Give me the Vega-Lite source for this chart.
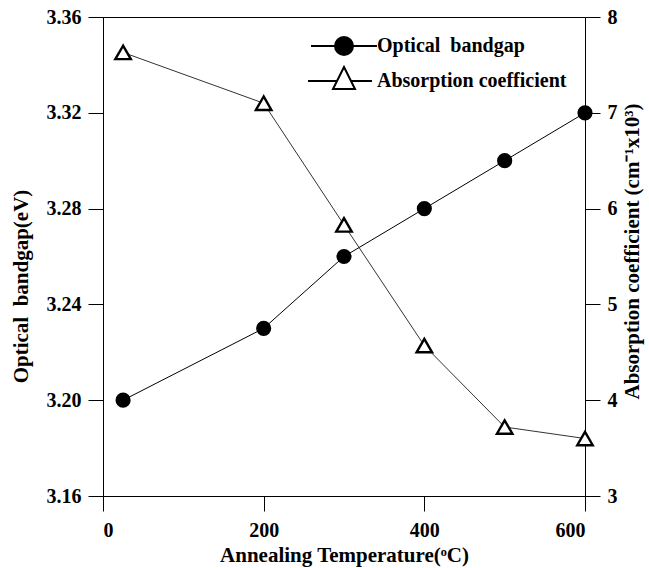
{
  "$schema": "https://vega.github.io/schema/vega-lite/v6.json",
  "autosize": {"type": "none"},
  "padding": {"left": 103, "top": 17, "right": 64, "bottom": 72},
  "width": 482,
  "height": 479,
  "background": "white",
  "config": {
    "view": {"stroke": "black", "strokeWidth": 1},
    "font": "Liberation Serif",
    "axis": {
      "grid": false,
      "domainColor": "black",
      "domainWidth": 1,
      "tickColor": "black",
      "tickWidth": 1,
      "tickSize": 15,
      "labelFont": "Liberation Serif",
      "labelFontWeight": "bold",
      "labelFontSize": 20,
      "labelColor": "black",
      "titleFont": "Liberation Serif",
      "titleFontWeight": "bold",
      "titleFontSize": 21,
      "titleColor": "black"
    },
    "legend": {
      "labelFont": "Liberation Serif",
      "labelFontWeight": "bold",
      "labelFontSize": 20,
      "labelColor": "black",
      "labelLimit": 400,
      "title": null,
      "orient": "none",
      "legendX": 208,
      "legendY": 18,
      "symbolSize": 400,
      "symbolStrokeColor": "black",
      "symbolStrokeWidth": 2,
      "symbolOpacity": 1,
      "symbolOffset": 22,
      "labelOffset": 22,
      "rowPadding": 4,
      "padding": 0
    }
  },
  "data": {
    "values": [
      {"T": 25, "series": "Optical\u00a0 bandgap", "value": 3.20},
      {"T": 200, "series": "Optical\u00a0 bandgap", "value": 3.23},
      {"T": 300, "series": "Optical\u00a0 bandgap", "value": 3.26},
      {"T": 400, "series": "Optical\u00a0 bandgap", "value": 3.28},
      {"T": 500, "series": "Optical\u00a0 bandgap", "value": 3.30},
      {"T": 600, "series": "Optical\u00a0 bandgap", "value": 3.32},
      {"T": 25, "series": "Absorption coefficient", "value": 7.63},
      {"T": 200, "series": "Absorption coefficient", "value": 7.10},
      {"T": 300, "series": "Absorption coefficient", "value": 5.83},
      {"T": 400, "series": "Absorption coefficient", "value": 4.57},
      {"T": 500, "series": "Absorption coefficient", "value": 3.72},
      {"T": 600, "series": "Absorption coefficient", "value": 3.60}
    ]
  },
  "encoding": {
    "x": {
      "field": "T",
      "type": "quantitative",
      "scale": {"domain": [0, 600], "nice": false, "zero": false},
      "axis": {
        "values": [0, 200, 400, 600],
        "title": "Annealing Temperature(ᵒC)",
        "labelPadding": 9,
        "titlePadding": 4
      }
    }
  },
  "layer": [
    {
      "transform": [{"filter": "datum.series === 'Optical\u00a0 bandgap'"}],
      "encoding": {
        "y": {
          "field": "value",
          "type": "quantitative",
          "scale": {"domain": [3.16, 3.36], "nice": false, "zero": false},
          "axis": {
            "orient": "left",
            "values": [3.16, 3.2, 3.24, 3.28, 3.32, 3.36],
            "format": ".2f",
            "title": "Optical\u00a0 bandgap(eV)",
            "labelPadding": 7,
            "titleAngle": 270,
            "titleBaseline": "alphabetic",
            "titleX": -76,
            "titleY": 269
          }
        }
      },
      "layer": [
        {"mark": {"type": "line", "color": "black", "strokeWidth": 1}},
        {"mark": {"type": "point", "shape": "circle", "filled": true, "color": "black", "size": 230, "opacity": 1}},
        {
          "transform": [{"filter": "datum.T > 10000"}],
          "mark": {"type": "point", "filled": true, "strokeWidth": 2, "size": 400, "opacity": 1},
          "encoding": {
            "shape": {
              "field": "series",
              "type": "nominal",
              "scale": {
                "domain": ["\u2002\u2002Optical\u00a0 bandgap", "Absorption coefficient"],
                "range": [
                  "M-3.3,0H-0.9M0.9,0H3.3M0.9,0A0.9,0.9,0,1,1,-0.9,0A0.9,0.9,0,1,1,0.9,0Z",
                  "M-3.6,0H-0.7M0.7,0H2.8M0,-1.4L1.1,0.8L-1.1,0.8Z"
                ]
              }
            },
            "fill": {
              "field": "series",
              "type": "nominal",
              "scale": {
                "domain": ["\u2002\u2002Optical\u00a0 bandgap", "Absorption coefficient"],
                "range": ["black", "white"]
              }
            },
            "stroke": {
              "field": "series",
              "type": "nominal",
              "scale": {
                "domain": ["\u2002\u2002Optical\u00a0 bandgap", "Absorption coefficient"],
                "range": ["black", "black"]
              }
            }
          }
        }
      ]
    },
    {
      "transform": [{"filter": "datum.series === 'Absorption coefficient'"}],
      "encoding": {
        "y": {
          "field": "value",
          "type": "quantitative",
          "scale": {"domain": [3, 8], "nice": false, "zero": false},
          "axis": {
            "orient": "right",
            "values": [3, 4, 5, 6, 7, 8],
            "title": "Absorption coefficient (cm⁻¹x10³)",
            "labelPadding": 7,
            "titleAngle": 270,
            "titleBaseline": "top",
            "titleX": 36,
            "titleY": 234
          }
        }
      },
      "layer": [
        {"mark": {"type": "line", "color": "#333333", "strokeWidth": 1}},
        {"mark": {"type": "point", "shape": "triangle-up", "filled": true, "fill": "white", "stroke": "black", "strokeWidth": 2.4, "size": 240, "opacity": 1}}
      ]
    }
  ],
  "resolve": {"scale": {"y": "independent"}}
}
